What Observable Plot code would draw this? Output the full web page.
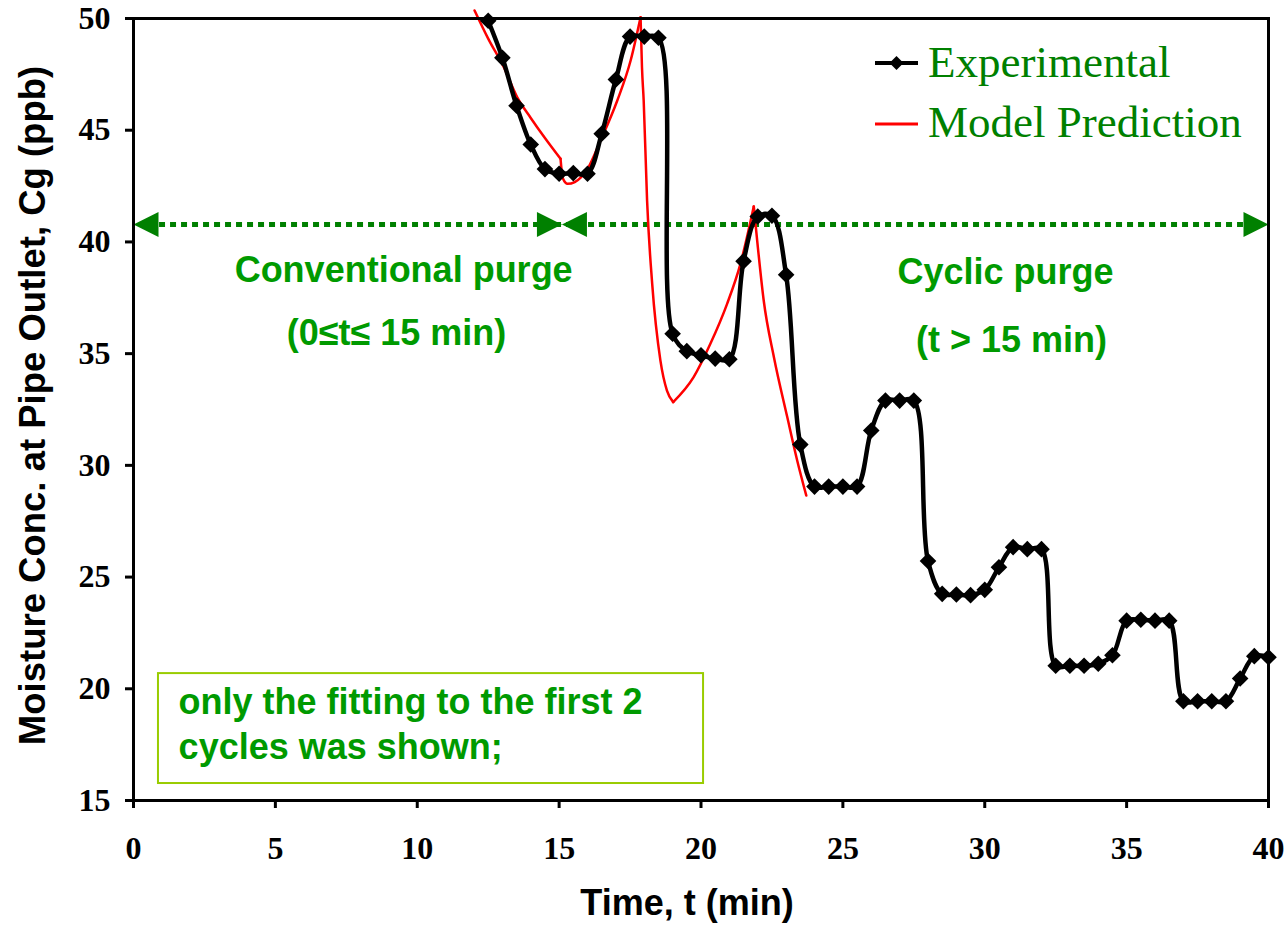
<!DOCTYPE html>
<html><head><meta charset="utf-8">
<script src="https://cdn.jsdelivr.net/npm/d3@7"></script>
<script src="https://cdn.jsdelivr.net/npm/@observablehq/plot@0.6"></script>
<style>
body{margin:0;background:#fff;}
#wrap{position:relative;width:1287px;height:935px;}
.leg{position:absolute;left:875px;height:45px;display:flex;align-items:center;font-family:"Liberation Serif",serif;font-size:45px;color:#008000;line-height:45px;white-space:nowrap;}
.leg svg{margin-right:10px;}
</style></head><body><div id="wrap"></div>
<script>
// Experimental series (time in min, moisture in ppb)
const expTime = [12.5,13,13.5,14,14.5,15,15.5,16,16.5,17,17.5,18,18.5,19,19.5,20,20.5,21,21.5,22,22.5,23,23.5,24,24.5,25,25.5,26,26.5,27,27.5,28,28.5,29,29.5,30,30.5,31,31.5,32,32.5,33,33.5,34,34.5,35,35.5,36,36.5,37,37.5,38,38.5,39,39.5,40];
const expConc = [49.9,48.24,46.1,44.36,43.26,43.05,43.08,43.05,44.84,47.27,49.19,49.19,49.14,35.89,35.11,34.93,34.78,34.75,39.14,41.14,41.17,38.53,30.93,29.05,29.05,29.05,29.05,31.56,32.9,32.9,32.9,25.72,24.25,24.22,24.19,24.43,25.44,26.34,26.25,26.25,21.03,21.03,21.03,21.12,21.5,23.05,23.09,23.05,23.05,19.44,19.44,19.44,19.44,20.46,21.46,21.41];

// Model prediction, drawn as piecewise segments
const modelTime = [12.02,12.5,13.05,13.52,14.0,14.5,15.05,
  15.05,15.13,15.3,15.55,16.0,16.46,17.05,17.52,17.87,
  17.87,17.92,17.98,18.1,18.28,18.57,18.8,19.02,
  19.02,19.74,20.33,20.92,21.39,21.86,
  21.86,21.98,22.21,22.57,23.04,23.39,23.71];
const modelConc = [50.36,49.1,47.82,46.48,45.55,44.65,43.72,
  43.72,42.85,42.6,42.68,43.27,44.54,46.33,48.12,50.06,
  50.06,47.82,46.33,41.85,38.12,34.69,33.35,32.83,
  32.83,33.95,35.44,37.23,39.02,41.59,
  41.59,40.06,37.38,34.84,32.16,30.22,28.65];
const modelSegment = [1,1,1,1,1,1,1, 2,2,2,2,2,2,2,2,2, 3,3,3,3,3,3,3,3, 4,4,4,4,4,4, 5,5,5,5,5,5,5];

const xTicks = [0,5,10,15,20,25,30,35,40];
const yTicks = [15,20,25,30,35,40,45,50];

// Annotations
const arrowLevel = 40.78;
const arrowTips = [0, 15.1, 15.1, 40];
const arrowDirs = ["left","right","left","right"];
const annoText = ["Conventional purge","(0≤t≤ 15 min)","Cyclic purge","(t > 15 min)"];
const annoX = [9.52, 9.27, 30.73, 30.94];
const annoY = [38.72, 35.9, 38.63, 35.59];
const noteText = "only the fitting to the first 2\ncycles was shown;";
const noteBox = {x1: 0.88, x2: 20.09, y1: 15.76, y2: 20.68};
const noteX = 1.59, noteY = 18.49;

const expData = expTime.map((t,i)=>({t, c: expConc[i]}));
const modelData = modelTime.map((t,i)=>({t, c: modelConc[i], s: modelSegment[i]}));
const tipData = arrowTips.map((t,i)=>({t, d: arrowDirs[i]}));
const annoData = annoText.map((s,i)=>({s, x: annoX[i], y: annoY[i]}));

const triRight = {draw(ctx, size){const r=Math.sqrt(size/Math.PI); ctx.moveTo(0,0); ctx.lineTo(-2*r,-r); ctx.lineTo(-2*r,r); ctx.closePath();}};
const triLeft = {draw(ctx, size){const r=Math.sqrt(size/Math.PI); ctx.moveTo(0,0); ctx.lineTo(2*r,-r); ctx.lineTo(2*r,r); ctx.closePath();}};

const green = "#008000";
const annoGreen = "#009a00";
const sans = "'Liberation Sans', Arial, sans-serif";

const chart = Plot.plot({
  width: 1287, height: 935,
  marginLeft: 133, marginRight: 19, marginTop: 18, marginBottom: 135,
  style: {fontFamily: "'Liberation Serif', 'Times New Roman', serif", background: "white"},
  x: {domain: [0, 40]},
  y: {domain: [15, 50]},
  marks: [
    Plot.axisX({ticks: xTicks, tickSize: 8, tickPadding: 28, strokeWidth: 3, fontSize: 32, fontWeight: "bold", label: null, tickFormat: d => d}),
    Plot.axisY({ticks: yTicks, tickSize: 8, tickPadding: 15, strokeWidth: 3, fontSize: 32, fontWeight: "bold", label: null, tickFormat: d => d}),
    // note box
    Plot.rect([noteBox], {x1: "x1", x2: "x2", y1: "y1", y2: "y2", fill: "white", stroke: "#99cc00", strokeWidth: 2}),
    Plot.text([noteText], {x: () => noteX, y: () => noteY, text: d => d, textAnchor: "start", fontFamily: sans, fontWeight: "bold", fontSize: 36, lineHeight: 1.25, fill: annoGreen}),
    // dotted double-arrow line
    Plot.link([{a: 0.9, b: 39.1}], {x1: "a", x2: "b", y1: () => arrowLevel, y2: () => arrowLevel, stroke: green, strokeWidth: 5, strokeDasharray: "6,5"}),
    Plot.dot(tipData.filter(d => d.d === "right"), {x: "t", y: () => arrowLevel, symbol: triRight, r: 12.5, fill: green}),
    Plot.dot(tipData.filter(d => d.d === "left"), {x: "t", y: () => arrowLevel, symbol: triLeft, r: 12.5, fill: green}),
    Plot.text(annoData, {x: "x", y: "y", text: "s", fontFamily: sans, fontWeight: "bold", fontSize: 36, fill: annoGreen}),
    // model prediction
    Plot.line(modelData, {x: "t", y: "c", z: "s", stroke: "#ff0000", strokeWidth: 2.5, curve: "monotone-x"}),
    // experimental
    Plot.line(expData, {x: "t", y: "c", stroke: "black", strokeWidth: 4.5, curve: "catmull-rom"}),
    Plot.dot(expData, {x: "t", y: "c", symbol: "diamond2", r: 7.5, fill: "black"}),
    Plot.frame({stroke: "black", strokeWidth: 3}),
    // axis titles
    Plot.text(["Moisture Conc. at Pipe Outlet, Cg (ppb)"], {frameAnchor: "left", text: d => d, textAnchor: "middle", lineAnchor: "middle", rotate: -90, dx: -100, dy: -4, fontFamily: sans, fontWeight: "bold", fontSize: 36.5, fill: "black"}),
    Plot.text(["Time, t (min)"], {frameAnchor: "bottom", text: d => d, textAnchor: "middle", lineAnchor: "middle", dx: -14, dy: 103, fontFamily: sans, fontWeight: "bold", fontSize: 36, fill: "black"})
  ]
});
const wrap = document.getElementById("wrap");
wrap.appendChild(chart);

// legend
const legItems = [
  {label: "Experimental", color: "black", marker: true, top: 40},
  {label: "Model Prediction", color: "#ff0000", marker: false, top: 100}
];
for (const it of legItems) {
  const div = document.createElement("div");
  div.className = "leg";
  div.style.top = it.top + "px";
  const sw = it.marker
    ? `<svg width="43" height="45"><line x1="0" x2="43" y1="23" y2="23" stroke="black" stroke-width="4"/><path d="M21.5,16L28.5,23L21.5,30L14.5,23Z" fill="black"/></svg>`
    : `<svg width="43" height="45"><line x1="0" x2="43" y1="24" y2="24" stroke="#ff0000" stroke-width="3"/></svg>`;
  div.innerHTML = sw + `<span>${it.label}</span>`;
  wrap.appendChild(div);
}
</script>
</body></html>
